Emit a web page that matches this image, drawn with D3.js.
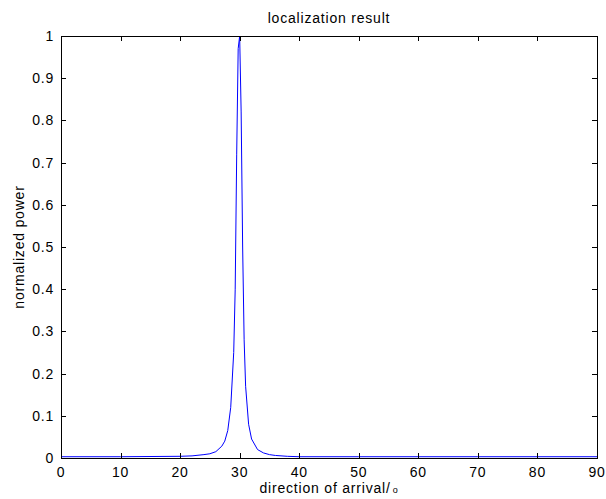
<!DOCTYPE html>
<head>
<meta charset="utf-8">
<style>
body { margin: 0; background: #fff; }
text { font-family: Arial, "Liberation Sans", sans-serif; font-size: 14px; letter-spacing: 0.8px; fill: #000; }
.line { fill: none; stroke: #0000ff; stroke-width: 1px; }
.box { fill: none; stroke: #000; stroke-width: 1px; }
</style>
</head>
<body>
<script src="https://d3js.org/d3.v7.min.js"></script>
<script>

// data
var angles = [0, 10, 20, 22, 24, 25, 26, 27, 27.5, 28, 28.5, 29, 29.25, 29.5, 29.75, 30,
              30.25, 30.5, 30.75, 31, 31.5, 32, 33, 34, 35, 36, 38, 40, 50, 60, 70, 80, 90];
var power  = [0.003, 0.003, 0.004, 0.005, 0.008, 0.010, 0.015, 0.028, 0.040, 0.065, 0.12, 0.25, 0.40, 0.72, 0.97, 1.0,
              0.82, 0.50, 0.28, 0.17, 0.08, 0.045, 0.020, 0.012, 0.008, 0.006, 0.004, 0.003, 0.003, 0.003, 0.003, 0.003, 0.003];
var xTicks = [0, 10, 20, 30, 40, 50, 60, 70, 80, 90];
var yTicks = [0, 0.1, 0.2, 0.3, 0.4, 0.5, 0.6, 0.7, 0.8, 0.9, 1];

var margin = {top: 36, right: 9, bottom: 41, left: 61},
    width = 606 - margin.left - margin.right,
    height = 499 - margin.top - margin.bottom;

var x = d3.scaleLinear().domain([0, 90]).range([0, width]);
var y = d3.scaleLinear().domain([0, 1]).range([height, 0]);

var svg = d3.select("body").append("svg")
    .attr("width", 606)
    .attr("height", 499);

var g = svg.append("g")
    .attr("transform", "translate(" + margin.left + "," + margin.top + ")");

var data = angles.map(function(a, i) { return {a: a, p: power[i]}; });

var valueline = d3.line()
    .x(function(d) { return x(d.a); })
    .y(function(d) { return y(d.p); });

g.append("path")
    .datum(data)
    .attr("class", "line")
    .attr("d", valueline);

// ticks pointing inward on all four sides (matlab box style)
var tl = 5;
g.selectAll(".xt").data(xTicks).enter().append("path")
    .attr("class", "box")
    .attr("d", function(d) { var px = Math.round(x(d)) + 0.5;
      return "M" + px + "," + height + "v" + (-tl) + "M" + px + ",0v" + tl; });
g.selectAll(".yt").data(yTicks).enter().append("path")
    .attr("class", "box")
    .attr("d", function(d) { var py = Math.round(y(d)) + 0.5;
      return "M0," + py + "h" + tl + "M" + width + "," + py + "h" + (-tl); });

g.append("rect")
    .attr("class", "box")
    .attr("x", 0.5).attr("y", 0.5)
    .attr("width", width).attr("height", height);

// tick labels
g.selectAll(".xl").data(xTicks).enter().append("text")
    .attr("x", function(d) { return x(d); })
    .attr("y", height + 19)
    .attr("text-anchor", "middle")
    .text(function(d) { return d; });
g.selectAll(".yl").data(yTicks).enter().append("text")
    .attr("x", -7)
    .attr("y", function(d) { return y(d) + 5; })
    .attr("text-anchor", "end")
    .text(function(d) { return d; });

// title and axis labels
svg.append("text")
    .attr("x", margin.left + width / 2)
    .attr("y", 23)
    .attr("text-anchor", "middle")
    .text("localization result");

var xl = svg.append("text")
    .attr("x", margin.left + width / 2)
    .attr("y", 493)
    .attr("text-anchor", "middle");
xl.append("tspan").text("direction of arrival/");
xl.append("tspan").attr("font-size", "9px").attr("dx", 2).text("o");

svg.append("text")
    .attr("transform", "translate(24," + (margin.top + height / 2) + ") rotate(-90)")
    .attr("text-anchor", "middle")
    .text("normalized power");

</script>
</body>
